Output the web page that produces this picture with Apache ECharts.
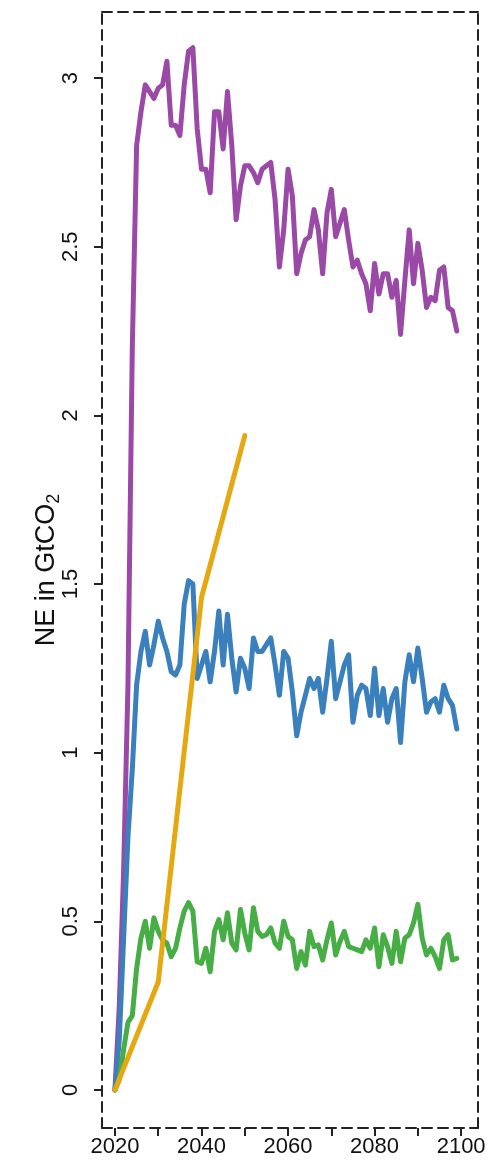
<!DOCTYPE html>
<html>
<head>
<meta charset="utf-8">
<script src="https://cdn.jsdelivr.net/npm/echarts@6.0.0/dist/echarts.min.js"></script>
<style>
  html, body { margin: 0; padding: 0; background: #fff; }
  #chart { width: 493px; height: 1166px; }
</style>
</head>
<body>
<div id="chart"></div>
<script>
// annual values 2020..2099
const startYear = 2020;
const purple = [
  0, 0.25, 0.65, 1.2, 2.2, 2.8, 2.9, 2.98, 2.96, 2.94,
  2.97, 2.98, 3.05, 2.86, 2.86, 2.83, 2.98, 3.08, 3.09, 2.85,
  2.73, 2.73, 2.66, 2.9, 2.9, 2.79, 2.96, 2.8, 2.58, 2.68,
  2.74, 2.74, 2.72, 2.69, 2.73, 2.74, 2.75, 2.64, 2.44, 2.55,
  2.73, 2.65, 2.42, 2.48, 2.52, 2.53, 2.61, 2.55, 2.42, 2.6,
  2.67, 2.53, 2.57, 2.61, 2.52, 2.44, 2.46, 2.42, 2.39, 2.31,
  2.45, 2.36, 2.42, 2.42, 2.35, 2.4, 2.24, 2.4, 2.55, 2.39,
  2.51, 2.43, 2.32, 2.35, 2.34, 2.43, 2.44, 2.32, 2.31, 2.25
];
const blue = [
  0, 0.15, 0.45, 0.75, 0.95, 1.2, 1.3, 1.36, 1.26, 1.32,
  1.39, 1.34, 1.3, 1.24, 1.23, 1.26, 1.44, 1.51, 1.5, 1.22,
  1.26, 1.3, 1.21, 1.3, 1.42, 1.26, 1.41, 1.28, 1.18, 1.28,
  1.25, 1.19, 1.34, 1.3, 1.3, 1.32, 1.34, 1.26, 1.17, 1.3,
  1.28, 1.18, 1.05, 1.12, 1.17, 1.22, 1.19, 1.22, 1.12, 1.22,
  1.33, 1.16, 1.21, 1.26, 1.29, 1.09, 1.17, 1.2, 1.19, 1.11,
  1.25, 1.11, 1.19, 1.09, 1.16, 1.19, 1.03, 1.21, 1.29, 1.21,
  1.31, 1.22, 1.12, 1.15, 1.16, 1.12, 1.2, 1.16, 1.14, 1.07
];
const green = [
  0, 0.03, 0.12, 0.2, 0.22, 0.36, 0.45, 0.5, 0.42, 0.51,
  0.47, 0.445, 0.435, 0.395, 0.42, 0.48, 0.53, 0.555, 0.53, 0.38,
  0.375, 0.42, 0.35, 0.47, 0.505, 0.445, 0.525, 0.435, 0.415, 0.535,
  0.465, 0.415, 0.54, 0.47, 0.455, 0.46, 0.48, 0.435, 0.42, 0.5,
  0.455, 0.445, 0.36, 0.41, 0.37, 0.47, 0.425, 0.43, 0.385, 0.445,
  0.495, 0.4, 0.44, 0.47, 0.425, 0.42, 0.415, 0.41, 0.445, 0.42,
  0.48, 0.365, 0.46, 0.425, 0.375, 0.47, 0.38, 0.45, 0.46, 0.495,
  0.55, 0.45, 0.4, 0.42, 0.395, 0.36, 0.445, 0.46, 0.385, 0.39
];
const orangeYears = [2020, 2030, 2040, 2050];
const orange = [0, 0.32, 1.46, 1.94];

const xTicks = [2020, 2030, 2040, 2050, 2060, 2070, 2080, 2090, 2100];
const xLabels = [2020, 2040, 2060, 2080, 2100];
const yTicks = [0, 0.5, 1, 1.5, 2, 2.5, 3];

const annual = vals => vals.map((v, i) => [startYear + i, v]);

const dash = { color: '#222', width: 2, type: [10, 6] };
const tickStyle = { color: '#222', width: 2 };
const font = 'Liberation Sans, Arial, sans-serif';

function line(data, color, z) {
  return {
    type: 'line',
    data: data,
    showSymbol: false,
    z: z,
    lineStyle: { color: color, width: 5, join: 'round', cap: 'round' },
    itemStyle: { color: color },
    animation: false
  };
}

const chart = echarts.init(document.getElementById('chart'));
chart.setOption({
  animation: false,
  grid: { left: 102, right: 15, top: 12, bottom: 38 },
  xAxis: [{
    type: 'value',
    min: 2017,
    max: 2103.9,
    position: 'bottom',
    splitLine: { show: false },
    axisLine: { show: true, onZero: false, lineStyle: dash },
    axisTick: { show: true, length: 8, lineStyle: tickStyle, customValues: xTicks },
    axisLabel: {
      color: '#111', fontSize: 22, fontFamily: font, margin: 8,
      customValues: xLabels, formatter: v => String(v)
    }
  }, {
    type: 'value',
    min: 2017,
    max: 2103.9,
    position: 'top',
    splitLine: { show: false },
    axisLine: { show: true, onZero: false, lineStyle: dash },
    axisTick: { show: false },
    axisLabel: { show: false }
  }],
  yAxis: [{
    type: 'value',
    min: -0.113,
    max: 3.196,
    position: 'left',
    splitLine: { show: false },
    axisLine: { show: true, onZero: false, lineStyle: dash },
    axisTick: { show: true, length: 8, lineStyle: tickStyle, customValues: yTicks },
    axisLabel: {
      color: '#111', fontSize: 22, fontFamily: font, rotate: 90, margin: 20,
      customValues: yTicks, formatter: v => String(v)
    },
    name: '{a|NE in GtCO}{b|2}',
    nameLocation: 'middle',
    nameRotate: 90,
    nameGap: 39,
    nameMoveOverlap: false,
    nameTextStyle: {
      rich: {
        a: { fontSize: 27, fontFamily: font, color: '#111' },
        b: { fontSize: 18, fontFamily: font, color: '#111', verticalAlign: 'bottom', padding: [14, 0, 0, 0] }
      }
    }
  }, {
    type: 'value',
    min: -0.113,
    max: 3.196,
    position: 'right',
    splitLine: { show: false },
    axisLine: { show: true, onZero: false, lineStyle: dash },
    axisTick: { show: false },
    axisLabel: { show: false }
  }],
  series: [
    line(annual(purple), '#9a4aa6', 2),
    line(annual(blue), '#3a80bd', 3),
    line(annual(green), '#47ad45', 4),
    line(orangeYears.map((y, i) => [y, orange[i]]), '#e6a810', 5)
  ]
});
</script>
</body>
</html>
